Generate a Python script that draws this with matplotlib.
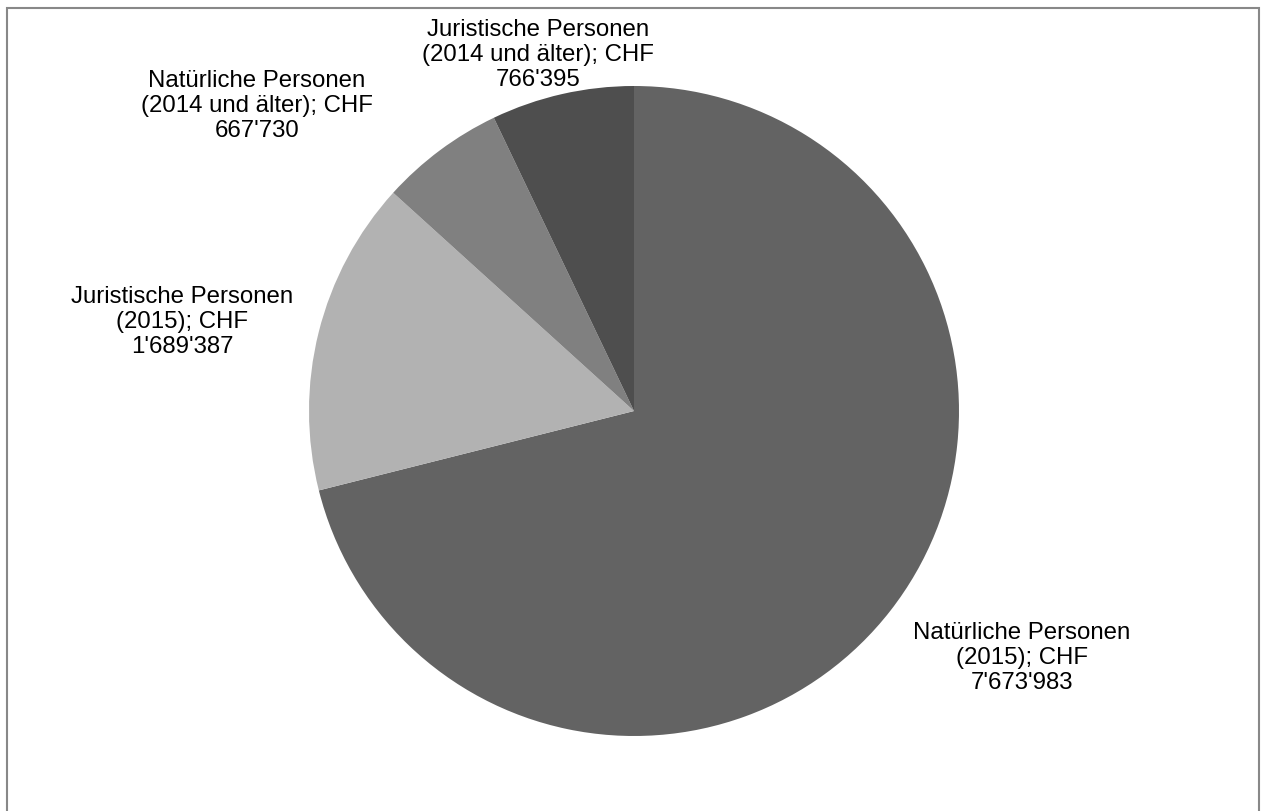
import matplotlib
matplotlib.use("Agg")
import matplotlib.pyplot as plt
from matplotlib.patches import Rectangle

categories = ["Natürliche Personen\n(2015); CHF\n7'673'983",
              "Juristische Personen\n(2015); CHF\n1'689'387",
              "Natürliche Personen\n(2014 und älter); CHF\n667'730",
              "Juristische Personen\n(2014 und älter); CHF\n766'395"]
values = [7673983, 1689387, 667730, 766395]
colors = ["#636363", "#b2b2b2", "#808080", "#4e4e4e"]

plt.rcParams['font.family'] = ['Liberation Sans', 'DejaVu Sans']

W, H = 1261, 812
cx, cy, R = 634, 412, 325

fig = plt.figure(figsize=(W/100, H/100), dpi=100)
ax = fig.add_axes([0, 0, 1, 1])
ax.pie(values, colors=colors, startangle=90, counterclock=False, radius=1.0,
       wedgeprops=dict(linewidth=0))
ax.set_xlim(-cx/R, (W-cx)/R)
ax.set_ylim(-(H-cy)/R, cy/R)
ax.set_aspect('equal')
ax.axis('off')

# label positions in pixel coords (center of text block)
label_px = [(1022, 658), (182, 322), (257, 106), (538, 55)]
for txt, (px, py) in zip(categories, label_px):
    ax.text((px-cx)/R, (cy-py)/R, txt, ha='center', va='center',
            fontsize=17.3, color='black', linespacing=1.2)

fig.patches.append(Rectangle((7/W, -0.01), (1259-7)/W, 1.01-9/H + 0.0,
                             transform=fig.transFigure, fill=False,
                             edgecolor='#888888', linewidth=1.5))
fig.savefig("out.png", dpi=100, facecolor='white')
